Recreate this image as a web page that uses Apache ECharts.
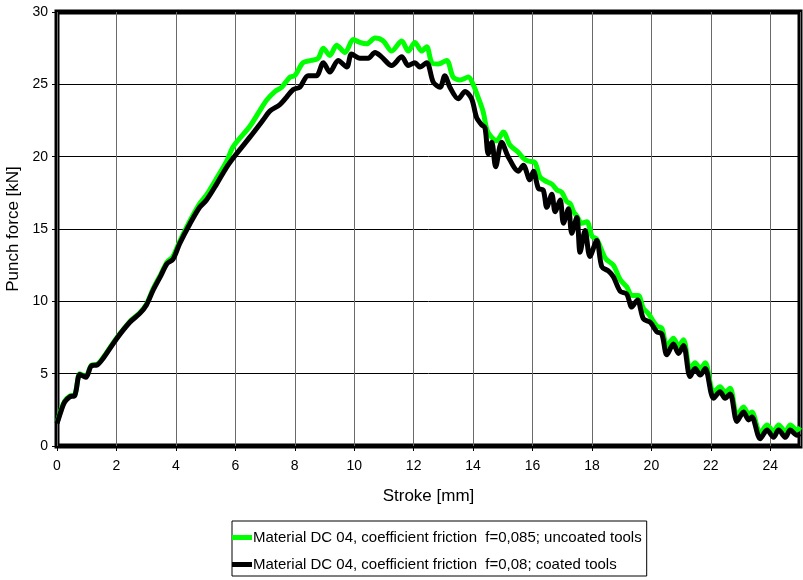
<!DOCTYPE html>
<html><head><meta charset="utf-8">
<script src="https://cdn.jsdelivr.net/npm/echarts@6/dist/echarts.min.js"></script>
<style>html,body{margin:0;padding:0;background:#fff}#c{width:803px;height:580px}</style>
</head><body><div id="c"></div>
<script>
var seriesNames = [
  'Material DC 04, coefficient friction  f=0,085; uncoated tools',
  'Material DC 04, coefficient friction  f=0,08; coated tools'
];
var xTicks = [0,2,4,6,8,10,12,14,16,18,20,22,24];
var yTicks = [0,5,10,15,20,25,30];
var uncoated = [[0,1.6],[0.15,2.6],[0.26,3.1],[0.43,3.45],[0.6,3.55],[0.77,5.0],[0.97,4.8],[1.16,5.6],[1.35,5.65],[1.55,6.1],[2.0,7.45],[2.45,8.6],[2.78,9.2],[3.01,9.8],[3.23,10.85],[3.5,11.9],[3.7,12.7],[3.9,13.1],[4.13,14.15],[4.47,15.55],[4.8,16.75],[5.03,17.35],[5.37,18.5],[5.7,19.65],[5.93,20.7],[6.49,22.1],[6.83,23.2],[7.05,23.9],[7.33,24.5],[7.56,24.8],[7.84,25.5],[8.0,25.6],[8.28,26.5],[8.56,26.65],[8.79,26.8],[8.96,27.5],[9.18,27.0],[9.41,27.7],[9.69,27.2],[9.97,28.1],[10.19,27.9],[10.42,27.8],[10.7,28.2],[10.98,28.0],[11.26,27.3],[11.6,28.0],[11.82,27.3],[12.04,27.9],[12.27,27.3],[12.44,27.6],[12.61,26.5],[12.83,26.4],[13.11,26.65],[13.33,25.5],[13.56,25.3],[13.84,25.5],[14.02,24.9],[14.17,24.1],[14.34,23.1],[14.46,21.9],[14.6,21.4],[14.79,21.1],[15.02,21.7],[15.24,20.8],[15.52,20.3],[15.69,19.9],[15.85,19.7],[16.08,19.6],[16.25,18.6],[16.45,18.3],[16.65,18.1],[16.82,17.7],[16.98,17.55],[17.15,16.9],[17.27,16.75],[17.38,16.2],[17.49,15.9],[17.65,15.4],[17.83,15.5],[18.0,14.5],[18.16,14.3],[18.46,12.95],[18.72,12.5],[18.95,11.5],[19.17,11.0],[19.35,10.4],[19.56,10.4],[19.73,9.5],[19.9,9.15],[20.18,8.3],[20.35,8.15],[20.52,6.9],[20.74,7.45],[20.91,6.9],[21.08,7.35],[21.3,5.3],[21.47,5.75],[21.64,5.35],[21.81,5.75],[22.09,3.7],[22.31,4.1],[22.48,3.7],[22.65,4.0],[22.88,2.1],[23.1,2.7],[23.27,2.2],[23.38,2.35],[23.66,0.9],[23.89,1.45],[24.11,1.0],[24.28,1.45],[24.51,1.0],[24.67,1.45],[24.9,1.1],[25,1.3]];
var coated = [[0,1.55],[0.15,2.5],[0.26,3.05],[0.43,3.4],[0.6,3.5],[0.77,4.95],[0.97,4.75],[1.16,5.55],[1.35,5.6],[1.55,6.05],[2.0,7.4],[2.45,8.55],[2.78,9.15],[3.01,9.75],[3.23,10.75],[3.5,11.8],[3.7,12.6],[3.9,12.9],[4.13,14.0],[4.47,15.35],[4.8,16.5],[5.03,17.0],[5.37,18.1],[5.7,19.25],[6.04,20.2],[6.49,21.35],[6.94,22.55],[7.16,23.15],[7.5,23.6],[7.72,24.1],[7.95,24.65],[8.17,24.8],[8.45,25.6],[8.73,25.6],[8.96,26.5],[9.18,25.85],[9.46,26.65],[9.75,26.2],[9.91,27.1],[10.19,26.8],[10.47,26.8],[10.7,27.2],[10.92,26.9],[11.26,26.3],[11.6,26.9],[11.82,26.3],[12.04,26.5],[12.21,26.2],[12.44,26.5],[12.66,25.15],[12.89,24.8],[13.05,25.6],[13.22,24.8],[13.5,24.0],[13.73,24.5],[13.95,24.0],[14.12,22.7],[14.29,22.2],[14.4,22.0],[14.51,20.2],[14.63,21.0],[14.76,19.3],[14.96,21.0],[15.18,20.0],[15.52,19.0],[15.69,19.4],[15.91,18.4],[16.03,19.0],[16.2,17.8],[16.36,17.7],[16.48,16.5],[16.65,17.4],[16.76,16.2],[16.93,17.0],[17.04,15.4],[17.21,16.4],[17.32,14.7],[17.49,15.8],[17.6,13.4],[17.77,14.9],[17.93,13.1],[18.16,14.2],[18.33,12.4],[18.55,12.1],[18.72,11.7],[18.95,10.7],[19.17,10.5],[19.34,9.6],[19.53,10.1],[19.73,8.8],[19.96,8.55],[20.18,7.9],[20.35,7.75],[20.52,6.3],[20.74,7.05],[20.91,6.4],[21.08,6.95],[21.3,4.8],[21.47,5.35],[21.64,4.9],[21.81,5.35],[22.09,3.3],[22.31,3.75],[22.48,3.3],[22.65,3.6],[22.88,1.7],[23.1,2.35],[23.27,1.8],[23.38,2.0],[23.66,0.5],[23.89,1.1],[24.11,0.6],[24.28,1.1],[24.51,0.6],[24.67,1.1],[24.9,0.75],[25,0.85]];

var FONT = '"Liberation Sans", Arial, sans-serif';
var chart = echarts.init(document.getElementById('c'), null, {renderer: 'canvas'});
chart.setOption({
  animation: false,
  backgroundColor: '#fff',
  textStyle: {fontFamily: FONT},
  grid: {left: 57, right: 3, top: 12, bottom: 134, outerBoundsMode: 'none', containLabel: false,
         show: true, borderColor: '#000', borderWidth: 5, backgroundColor: 'transparent'},
  legend: {
    left: 232, top: 521, orient: 'vertical',
    data: [
      {name: seriesNames[0], icon: 'rect', itemStyle: {color: '#00ff00'}},
      {name: seriesNames[1], icon: 'rect', itemStyle: {color: '#000'}}
    ],
    itemWidth: 20, itemHeight: 5, itemGap: 12,
    padding: [9, 5, 4, 0],
    borderColor: '#000', borderWidth: 1, borderRadius: 0,
    textStyle: {fontFamily: FONT, fontSize: 15, color: '#000', padding: [0,0,0,-4]}
  },
  xAxis: {
    type: 'value', min: xTicks[0], max: 25, interval: 2,
    name: 'Stroke [mm]', nameLocation: 'middle', nameGap: 42,
    nameTextStyle: {fontFamily: FONT, fontSize: 17, color: '#000'},
    axisLine: {show: false},
    axisTick: {show: true, length: 5, lineStyle: {color: '#000'}},
    axisLabel: {fontFamily: FONT, fontSize: 14, color: '#000', margin: 13, showMaxLabel: false},
    splitLine: {show: true, lineStyle: {color: '#6a6a6a', width: 1}}
  },
  yAxis: {
    type: 'value', min: yTicks[0], max: yTicks[yTicks.length - 1], interval: 5,
    name: 'Punch force [kN]', nameLocation: 'middle', nameGap: 34,
    nameTextStyle: {fontFamily: FONT, fontSize: 17, color: '#000'},
    axisLine: {show: false},
    axisTick: {show: true, length: 5, lineStyle: {color: '#000'}},
    axisLabel: {fontFamily: FONT, fontSize: 14, color: '#000', margin: 9},
    splitLine: {show: true, lineStyle: {color: '#000', width: 1}}
  },
  series: [
    {name: seriesNames[0], type: 'line', data: uncoated, showSymbol: false, symbol: 'none', smooth: 0.3,
     lineStyle: {color: '#00ff00', width: 5}, itemStyle: {color: '#00ff00'}},
    {name: seriesNames[1], type: 'line', data: coated, showSymbol: false, symbol: 'none', smooth: 0.3,
     lineStyle: {color: '#000', width: 5}, itemStyle: {color: '#000'}}
  ]
});
</script></body></html>
